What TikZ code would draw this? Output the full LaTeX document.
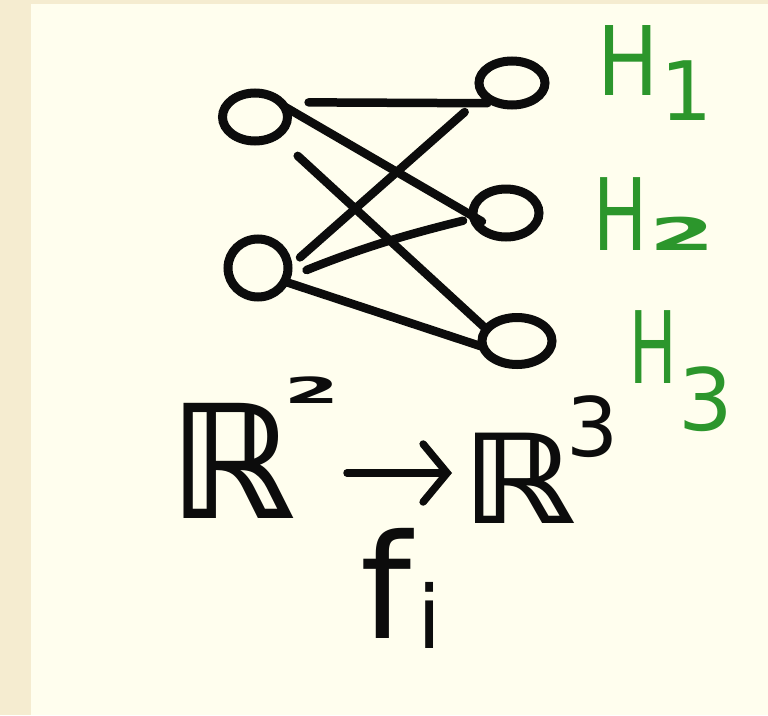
\documentclass[tikz,border=0pt]{standalone}
\usepackage{fontspec}
\setmainfont{DejaVu Sans}
\usetikzlibrary{shapes.geometric,arrows.meta}
\definecolor{paper}{RGB}{245,236,208}
\definecolor{cream}{RGB}{255,254,238}
\definecolor{hgreen}{RGB}{44,150,44}
\definecolor{ink}{RGB}{12,12,12}
\newcommand{\fsz}[1]{\fontsize{#1}{#1}\selectfont}
\begin{document}
\begin{tikzpicture}[x=1pt,y=-1pt,
  neuron/.style={ellipse, draw=ink, line width=9pt, inner sep=0pt, outer sep=0pt},
  wire/.style={draw=ink, line width=8.5pt, line cap=round},
  hlab/.style={text=hgreen, inner sep=0pt, anchor=base west},
  mtxt/.style={text=ink, inner sep=0pt, anchor=base west},
  maparrow/.style={draw=ink, line width=7.5pt, line cap=round,
    -{Straight Barb[length=24pt,width=58pt,line cap=round]}}]
\useasboundingbox (0,0) rectangle (768,715);
\fill[paper] (0,0) rectangle (768,715);
\fill[cream] (31,4) rectangle (768,715);

% neurons
\node[neuron, minimum width=65pt, minimum height=48pt] (L1) at (255,117) {};
\node[neuron, minimum width=60pt, minimum height=58pt] (L2) at (258,268) {};
\node[neuron, minimum width=66pt, minimum height=44pt] (R1) at (512,83) {};
\node[neuron, minimum width=66pt, minimum height=48pt] (R2) at (506,213) {};
\node[neuron, minimum width=70pt, minimum height=47pt] (R3) at (517,341) {};

% connections
\draw[wire, shorten <=28pt, shorten >=12pt] (L1.30) -- (R1.238);
\draw[wire, shorten >=-10pt] (L1.20) -- (R2.186);
\draw[wire, shorten <=30pt] (L1.318) -- (R3.159);
\draw[wire, shorten <=16pt, shorten >=26pt] (L2.0) -- (R1.203);
\draw[wire, shorten <=22pt, shorten >=11pt] (L2.340) to[bend left=4] (R2.189);
\draw[wire] (L2.333) -- (R3.190);

% green labels
\node[hlab] (H1) at (597,95) {\fsz{96}\scalebox{0.85}[1]{H}\kern2pt\raisebox{-25pt}{\fsz{82}1}};
\node[hlab] (H2) at (593,250) {\fsz{100}\scalebox{0.72}[1]{H}\kern2pt{\fsz{45}\scalebox{2.1}[1]{\bfseries 2}}};
\node[hlab] (H3) at (629,383) {\fsz{100}\scalebox{0.63}[1]{H}\kern2pt\raisebox{-47pt}{\fsz{86}3}};

% map
\node[mtxt] (rtwo) at (168,518) {\fsz{158}\bfseries ℝ\kern-10pt\raisebox{115pt}{\fsz{36}\scalebox{2.2}[1]{2}}};
\node[mtxt] (rthree) at (461,523) {\fsz{124}\bfseries\scalebox{1.15}[1]{ℝ}\kern-9pt\raisebox{67pt}{\fsz{82}\mdseries 3}};
\coordinate (arrS) at (347,473);
\coordinate (arrE) at (452,473);
\draw[maparrow] (arrS) -- (arrE);
\node[mtxt] (fi) at (360,638) {\fsz{145}f\kern6pt\raisebox{-10pt}{\fsz{87}i}};
\end{tikzpicture}
\end{document}
